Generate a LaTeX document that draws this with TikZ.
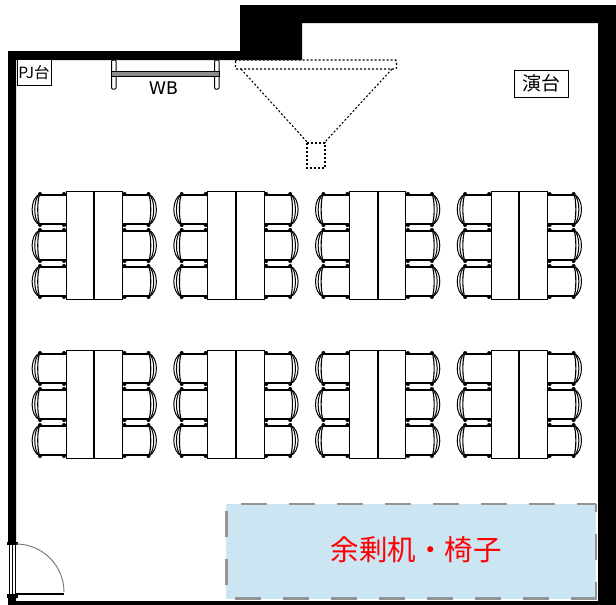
\documentclass[tikz,border=0pt]{standalone}
\usepackage{fontspec}
\setmainfont{DejaVu Sans}
\newfontfamily\cjk{Noto Sans CJK JP}
\definecolor{sparefill}{HTML}{CBE5F2}
\tikzset{
    wall/.style={fill=black,draw=none},
    desk/.style={draw,line width=1pt,fill=white},
    label box/.style={draw,line width=.9pt,fill=white,inner sep=0pt,font=\cjk},
    hidden line/.style={dash pattern=on 2pt off 2pt,line width=1.1pt},
    spare edge/.style={draw=black!42,line width=2.6pt},
}
% one chair, seat toward the desk: #1 = x of desk edge, #2 = top y, #3 = direction
\newcommand{\chair}[3]{
    \draw[line width=1.2pt] (#1,#2+1)--(#1+#3*26,#2+1)(#1,#2+30)--(#1+#3*26,#2+30);
    \draw[line width=1.1pt] (#1+#3*26,#2)..controls(#1+#3*29,#2+4)and(#1+#3*29,#2+27)..(#1+#3*26,#2+31);
    \draw[line width=1pt] (#1+#3*26,#2)..controls(#1+#3*33,#2+4)and(#1+#3*33,#2+27)..(#1+#3*26,#2+31);
    \draw[line width=1pt] (#1+#3*26,#2)..controls(#1+#3*36.5,#2+4)and(#1+#3*36.5,#2+27)..(#1+#3*26,#2+31);
    \fill (#1+#3*26,#2) circle (2) (#1+#3*26,#2+31) circle (2)
        (#1+#3*2,#2) circle (2) (#1+#3*2,#2+31) circle (2);
}
\begin{document}
\begin{tikzpicture}[x=1pt,y=-1pt]
\useasboundingbox (0,0) rectangle (616,605);

% walls
\fill[wall] (8,51)--(240,51)--(240,5)--(616,5)--(616,605)--(8,605)--(8,596)--(16,596)--(16,601)--(598,601)--(598,23)--(302,23)--(302,60)--(16,60)--(16,543)--(8,543)--cycle;

% door
\fill[white] (8,543) rectangle (16,596);
\draw[line width=1pt] (9.5,544)--(9.5,596)(12.5,544)--(12.5,596)(15.5,544)--(15.5,596);
\fill (7,541.5) rectangle (18,545);
\fill (7,594) rectangle (18,598);
\draw[line width=2.6pt] (16,594)--(64,594);
\draw[black!55,line width=.9pt] (16,544) arc[start angle=-90,end angle=0,radius=48];

% whiteboard
\foreach \x in {111.5,214.5}
{
    \draw[line width=1pt,rounded corners=1pt] (\x,60)rectangle(\x+4.5,89);
}
\draw[line width=.9pt,fill=black!45] (111,71)rectangle(219.5,76);
\node (wb) at (163.5,88) {\fontsize{17.5}{17}\selectfont WB};

% boxes
\node[label box,minimum width=34,minimum height=26] (pj) at (34,72.5) {\fontsize{15.5}{15}\selectfont PJ台};
\node[label box,minimum width=54,minimum height=27] (stand) at (541.5,83.5) {\fontsize{19}{19}\selectfont 演台};

% projector throw
\draw[hidden line,rounded corners=1pt] (235.5,60)rectangle(396.5,69);
\draw[hidden line] (241,69)--(308,143)(392,69)--(324,143);
\draw[hidden line] (307,143)rectangle(325,168);

% desks and chairs
\foreach \x in {0,141.7,283.4,425.1}
{
    \foreach \y in {0,159}
    {
        \foreach \n in {0,36,72}
        {
            \chair{66+\x}{194+\y+\n}{-1}
            \chair{122.5+\x}{194+\y+\n}{1}
        }
        \draw[desk] (66+\x,191.5+\y)rectangle(93.8+\x,299+\y);
        \draw[desk] (94.8+\x,191.5+\y)rectangle(122.5+\x,299+\y);
    }
}

% spare area
\fill[sparefill] (226,504)rectangle(596,599);
\draw[spare edge,dash pattern=on 26pt off 22pt,dash phase=33pt] (226,504)--(596,504);
\draw[spare edge,dash pattern=on 26pt off 22pt,dash phase=18pt] (596,504)--(596,598.5);
\draw[spare edge,dash pattern=on 26pt off 22pt] (597,598.5)--(226,598.5);
\draw[spare edge,dash pattern=on 26pt off 22pt,dash phase=35pt] (226.5,598)--(226.5,504);
\node[text=red] (spare) at (416,550) {\cjk\fontsize{28.5}{28}\selectfont 余剰机・椅子};
\end{tikzpicture}
\end{document}
